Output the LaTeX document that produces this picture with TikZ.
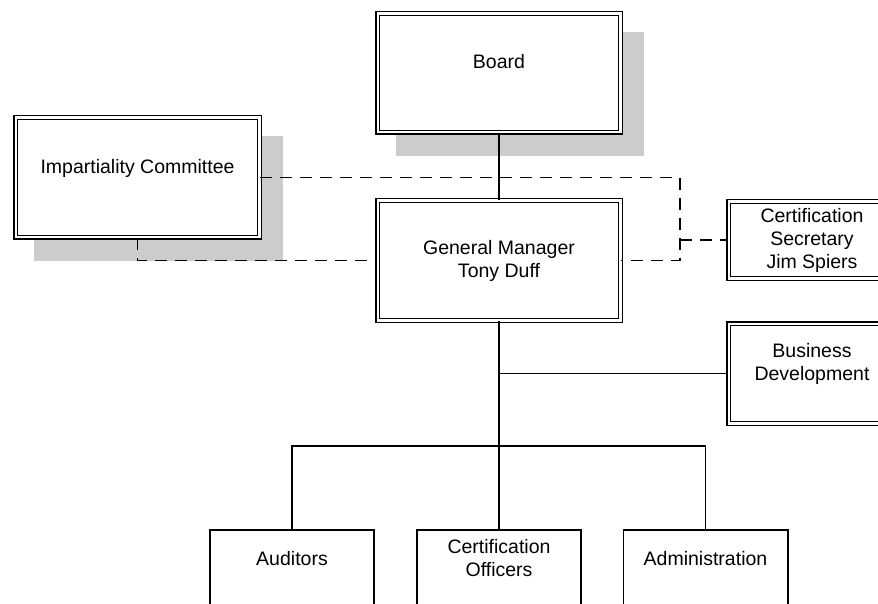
\documentclass[tikz,border=0pt]{standalone}
\usepackage{fontspec}
\setmainfont{Liberation Sans}
\usetikzlibrary{shadows}

\begin{document}
\begin{tikzpicture}[x=1pt, y=-1pt,
  every node/.style={font=\fontsize{19.5}{23}\selectfont, align=center},
  dbox/.style={draw, double, line width=1.5pt, double distance=2.4pt, fill=white,
    minimum width=242.6pt, minimum height=119.6pt, inner sep=0pt},
  sbox/.style={draw, line width=1.7pt, fill=white, minimum width=164.3pt,
    minimum height=80pt, inner sep=0pt},
  shadowed/.style={drop shadow={shadow xshift=21pt, shadow yshift=-21pt,
    fill=black!20, draw=black!20, line width=6pt, opacity=1}},
  link/.style={line width=1.7pt},
  dashlink/.style={line width=1.7pt, dash pattern=on 12pt off 8pt}]
\useasboundingbox (0,0) rectangle (878,604);
\clip (0,0) rectangle (878,604);
% upper part
\node[dbox, shadowed, minimum height=118.6pt] (board) at (499,73) {Board\\\mbox{}};
\node[dbox, shadowed, minimum width=243.6pt] (committee) at (137.5,177.5) {Impartiality Committee\\\mbox{}};
\node[dbox] (manager) at (499,260.5) {General Manager\\Tony Duff};
\node[dbox, minimum width=166.6pt, minimum height=76.6pt] (secretary) at (812,240) {Certification\\Secretary\\Jim Spiers};
\node[dbox, minimum width=166.6pt, minimum height=99.6pt] (business) at (812,373.5) {Business\\Development\\\mbox{}};
% staff
\node[sbox] (auditors) at (292,569.7) {Auditors\\\mbox{}};
\node[sbox] (officers) at (499,569.7) {Certification\\Officers\\\mbox{}};
\node[sbox] (admin) at (705.5,569.7) {Administration\\\mbox{}};
% dashed links
\coordinate (dashbend) at (680,260.5);
\draw[dashlink] (committee.east) -| (dashbend) -- (manager.east);
\draw[dashlink] (secretary.west -| dashbend) -- (secretary.west);
\draw[dashlink] (committee.south) |- (manager.west);
% solid links
\draw[link] (board) -- (manager);
\draw[link] (manager) -- (officers);
\draw[link] (business.west) -- (business.west -| manager.south);
\coordinate (bar) at (499,446);
\draw[link] (auditors.north) |- (bar) -| (admin.north);
\end{tikzpicture}
\end{document}
